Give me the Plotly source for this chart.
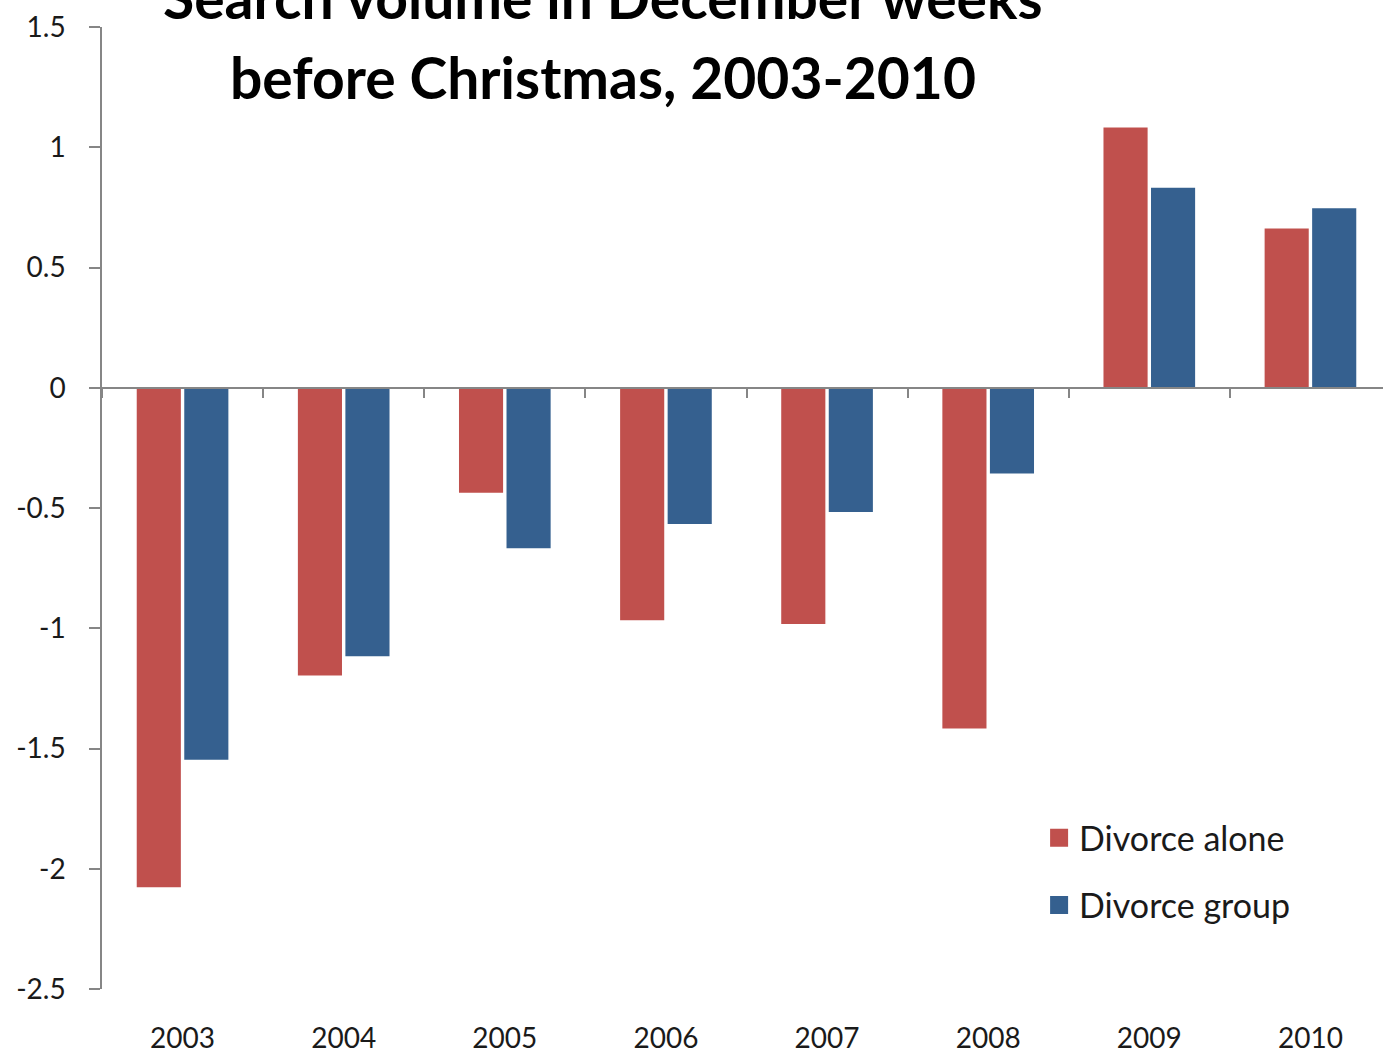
import plotly.graph_objects as go

years = ["2003", "2004", "2005", "2006", "2007", "2008", "2009", "2010"]
divorce_alone = [-2.08, -1.20, -0.44, -0.97, -0.985, -1.42, 1.085, 0.665]
divorce_group = [-1.55, -1.12, -0.67, -0.57, -0.52, -0.36, 0.835, 0.75]
y_tick_vals = [1.5, 1, 0.5, 0, -0.5, -1, -1.5, -2, -2.5]
y_tick_text = ["1.5", "1", "0.5", "0", "-0.5", "-1", "-1.5", "-2", "-2.5"]

RED = "#C0504D"
BLUE = "#35608F"
AXIS = "#868686"
FONT = "Lato, 'Open Sans', sans-serif"
TXT = "#1a1a1a"

fig = go.Figure()
fig.add_trace(go.Bar(x=years, y=divorce_alone, name="Divorce alone",
                     marker=dict(color=RED, line=dict(color="white", width=1.5)),
                     showlegend=False))
fig.add_trace(go.Bar(x=years, y=divorce_group, name="Divorce group",
                     marker=dict(color=BLUE, line=dict(color="white", width=1.5)),
                     showlegend=False))
# legend entries with larger square swatches
for nm, col, grp in [("Divorce alone", RED, "a"), ("Divorce group", BLUE, "b")]:
    fig.add_trace(go.Scatter(x=[None], y=[None], mode="markers", name=nm,
                             legendgroup=grp,
                             marker=dict(symbol="square", size=16, color=col,
                                         line=dict(color=col, width=2))))
# invisible helper trace so the zero-line category axis is drawn
fig.add_trace(go.Scatter(x=years, y=[None] * len(years), xaxis="x2",
                         showlegend=False, hoverinfo="skip"))

ymin, ymax = -2.5, 1.5
zero_pos = (0 - ymin) / (ymax - ymin)

fig.update_layout(
    width=1391, height=1053,
    margin=dict(l=102, r=0, t=27, b=64),
    paper_bgcolor="white", plot_bgcolor="white",
    font=dict(family=FONT, color=TXT),
    barmode="group", bargap=0.41, bargroupgap=0.04,
    showlegend=True,
    legend=dict(x=0.727, y=0.187, xanchor="left", yanchor="top",
                font=dict(size=34, family=FONT, color=TXT),
                traceorder="grouped", tracegroupgap=20,
                bgcolor="rgba(0,0,0,0)", itemwidth=30),
    xaxis=dict(type="category", showline=False, ticks="", showgrid=False,
               zeroline=False, tickfont=dict(size=28, family=FONT, color=TXT),
               ticklabelstandoff=30),
    xaxis2=dict(type="category", overlaying="x", matches="x", anchor="free",
                position=zero_pos, showline=True, linecolor=AXIS, linewidth=1.5,
                ticks="outside", tickson="boundaries", ticklen=9, tickcolor=AXIS,
                tickwidth=1.5, showticklabels=False, showgrid=False, zeroline=False),
    yaxis=dict(range=[ymin, ymax], tickvals=y_tick_vals, ticktext=y_tick_text,
               showline=True, linecolor=AXIS, linewidth=1.5, ticks="outside",
               ticklen=11, tickcolor=AXIS, tickwidth=1.5, showgrid=False,
               zeroline=False, tickfont=dict(size=28, family=FONT, color=TXT),
               ticklabelstandoff=18),
)

title_font = dict(size=57, family=FONT, color="black")
fig.add_annotation(text="<b>Search volume in December weeks</b>", xref="paper", yref="paper",
                   x=0.3887, y=1, yshift=27 + 3, xanchor="center", yanchor="middle",
                   showarrow=False, font=title_font)
fig.add_annotation(text="<b>before Christmas, 2003-2010</b>", xref="paper", yref="paper",
                   x=0.3887, y=1, yshift=27 - 77, xanchor="center", yanchor="middle",
                   showarrow=False, font=title_font)

fig.write_html("out.html", config={"displayModeBar": False},
               post_script="document.body.style.margin='0px';"
                           "document.body.style.overflow='hidden';"
                           "document.documentElement.style.overflow='hidden';")
